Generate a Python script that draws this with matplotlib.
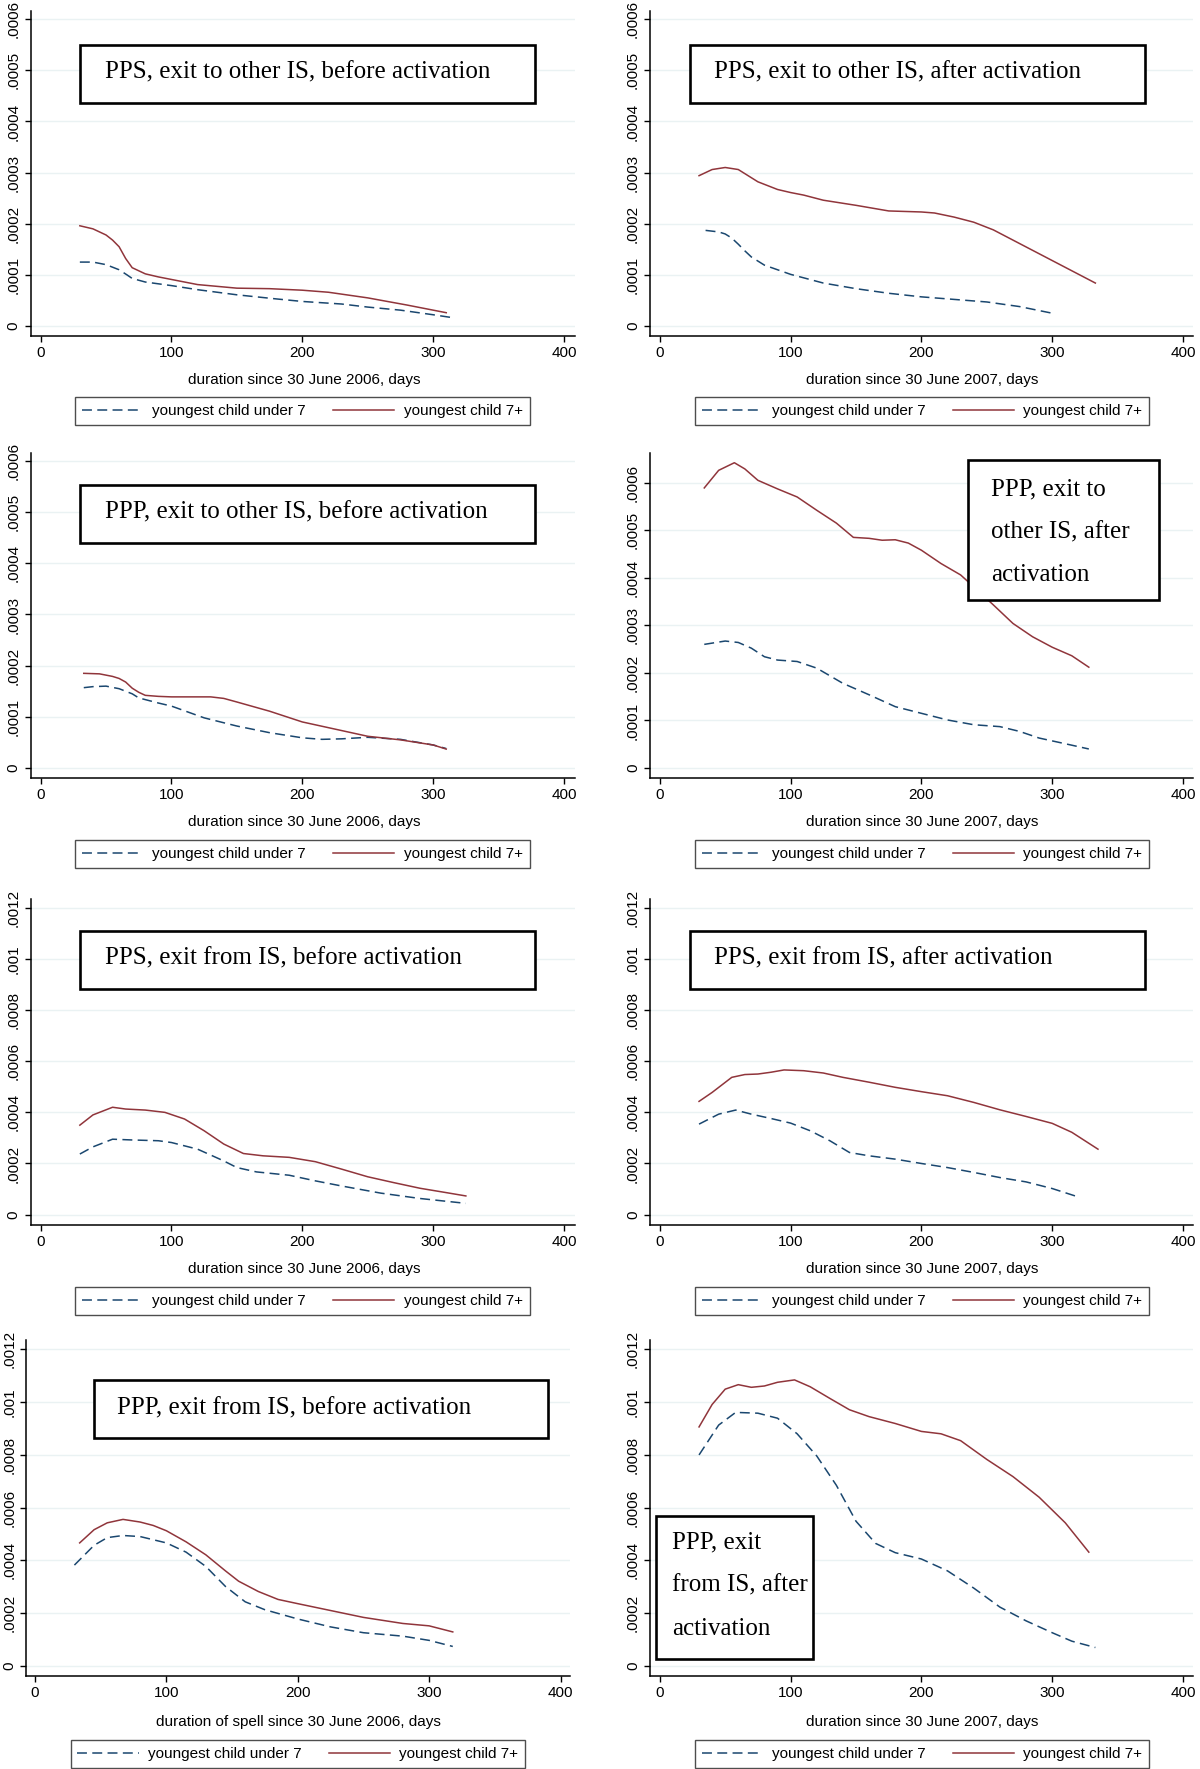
import numpy as np
import matplotlib
matplotlib.use("Agg")
import matplotlib.pyplot as plt
from matplotlib.patches import Rectangle
from matplotlib.lines import Line2D

W, H = 1200, 1769

# ---- data (hazard values in units of 0.0001) ----
# PPS, exit to other IS, before activation (2006)
pps_oth_bef_x_u7 = [30, 40, 50, 60, 66, 70, 80, 100, 120, 150, 180, 200, 230, 250, 275, 300, 313]
pps_oth_bef_y_u7 = [1.25, 1.25, 1.20, 1.10, 1.00, 0.93, 0.86, 0.79, 0.71, 0.61, 0.53, 0.48, 0.43, 0.37, 0.31, 0.22, 0.17]
pps_oth_bef_x_7p = [30, 40, 50, 55, 60, 65, 70, 80, 90, 100, 120, 150, 175, 200, 220, 250, 280, 310]
pps_oth_bef_y_7p = [1.96, 1.90, 1.78, 1.68, 1.55, 1.32, 1.14, 1.02, 0.96, 0.91, 0.81, 0.74, 0.73, 0.70, 0.66, 0.55, 0.41, 0.26]

# PPS, exit to other IS, after activation (2007)
pps_oth_aft_x_u7 = [35, 45, 50, 55, 60, 65, 70, 80, 100, 125, 150, 175, 200, 225, 250, 275, 300]
pps_oth_aft_y_u7 = [1.87, 1.84, 1.80, 1.72, 1.60, 1.47, 1.35, 1.19, 1.01, 0.84, 0.73, 0.64, 0.57, 0.52, 0.47, 0.38, 0.25]
pps_oth_aft_x_7p = [30, 40, 50, 60, 65, 75, 90, 100, 110, 125, 150, 175, 200, 210, 225, 240, 255, 270, 300, 333]
pps_oth_aft_y_7p = [2.94, 3.06, 3.10, 3.06, 2.98, 2.82, 2.67, 2.61, 2.56, 2.46, 2.36, 2.25, 2.23, 2.21, 2.13, 2.03, 1.88, 1.68, 1.28, 0.84]

# PPP, exit to other IS, before activation (2006)
ppp_oth_bef_x_u7 = [33, 40, 50, 60, 70, 75, 90, 100, 125, 150, 175, 200, 215, 230, 250, 275, 300, 310]
ppp_oth_bef_y_u7 = [1.57, 1.59, 1.60, 1.55, 1.45, 1.37, 1.27, 1.21, 0.98, 0.82, 0.69, 0.59, 0.56, 0.57, 0.60, 0.56, 0.45, 0.38]
ppp_oth_bef_x_7p = [33, 45, 55, 60, 65, 70, 75, 80, 90, 100, 115, 130, 140, 150, 175, 200, 225, 250, 275, 300, 310]
ppp_oth_bef_y_7p = [1.85, 1.84, 1.79, 1.75, 1.68, 1.56, 1.48, 1.42, 1.40, 1.39, 1.39, 1.39, 1.36, 1.29, 1.11, 0.90, 0.76, 0.62, 0.55, 0.45, 0.37]

# PPP, exit to other IS, after activation (2007)
ppp_oth_aft_x_u7 = [34, 50, 60, 70, 80, 90, 105, 120, 140, 160, 180, 200, 220, 240, 260, 275, 290, 310, 328]
ppp_oth_aft_y_u7 = [2.60, 2.67, 2.64, 2.52, 2.34, 2.27, 2.24, 2.10, 1.78, 1.54, 1.29, 1.15, 1.01, 0.91, 0.87, 0.77, 0.63, 0.51, 0.40]
ppp_oth_aft_x_7p = [34, 45, 57, 65, 75, 90, 105, 120, 135, 148, 160, 170, 180, 190, 200, 215, 230, 240, 255, 270, 285, 300, 315, 328]
ppp_oth_aft_y_7p = [5.89, 6.26, 6.42, 6.29, 6.05, 5.87, 5.70, 5.42, 5.15, 4.85, 4.83, 4.79, 4.80, 4.73, 4.58, 4.30, 4.06, 3.81, 3.43, 3.04, 2.76, 2.54, 2.36, 2.12]

# PPS, exit from IS, before activation (2006)
pps_from_bef_x_u7 = [30, 40, 55, 70, 90, 100, 120, 140, 150, 165, 190, 210, 230, 260, 290, 325]
pps_from_bef_y_u7 = [2.37, 2.65, 2.95, 2.92, 2.89, 2.82, 2.56, 2.10, 1.84, 1.67, 1.54, 1.32, 1.12, 0.84, 0.63, 0.44]
pps_from_bef_x_7p = [30, 40, 55, 65, 80, 95, 110, 125, 140, 155, 170, 190, 210, 230, 250, 270, 290, 310, 325]
pps_from_bef_y_7p = [3.50, 3.90, 4.20, 4.13, 4.09, 4.00, 3.74, 3.28, 2.76, 2.39, 2.30, 2.24, 2.07, 1.78, 1.48, 1.25, 1.03, 0.86, 0.73]

# PPS, exit from IS, after activation (2007)
pps_from_aft_x_u7 = [30, 45, 58, 70, 85, 100, 115, 130, 145, 160, 180, 200, 220, 240, 260, 280, 300, 320]
pps_from_aft_y_u7 = [3.54, 3.93, 4.09, 3.93, 3.76, 3.58, 3.28, 2.89, 2.43, 2.30, 2.17, 2.00, 1.84, 1.65, 1.45, 1.28, 1.02, 0.69]
pps_from_aft_x_7p = [30, 40, 55, 65, 75, 85, 95, 110, 125, 140, 160, 180, 200, 220, 240, 260, 280, 300, 315, 335]
pps_from_aft_y_7p = [4.43, 4.78, 5.37, 5.48, 5.50, 5.57, 5.66, 5.63, 5.54, 5.37, 5.18, 4.98, 4.81, 4.65, 4.39, 4.10, 3.84, 3.57, 3.22, 2.56]

# PPP, exit from IS, before activation (2006)
ppp_from_bef_x_u7 = [30, 45, 55, 67, 80, 100, 115, 130, 145, 160, 175, 200, 225, 250, 280, 300, 318]
ppp_from_bef_y_u7 = [3.82, 4.57, 4.86, 4.94, 4.90, 4.66, 4.31, 3.77, 3.01, 2.43, 2.13, 1.78, 1.48, 1.26, 1.13, 0.97, 0.74]
ppp_from_bef_x_7p = [34, 45, 55, 67, 80, 90, 100, 115, 130, 145, 155, 170, 185, 200, 225, 250, 280, 300, 318]
ppp_from_bef_y_7p = [4.66, 5.16, 5.42, 5.55, 5.45, 5.32, 5.12, 4.70, 4.21, 3.60, 3.21, 2.82, 2.52, 2.36, 2.10, 1.84, 1.61, 1.52, 1.29]

# PPP, exit from IS, after activation (2007)
ppp_from_aft_x_u7 = [30, 45, 58, 75, 90, 105, 120, 135, 150, 165, 180, 200, 220, 240, 260, 280, 300, 315, 333]
ppp_from_aft_y_u7 = [7.99, 9.12, 9.60, 9.57, 9.38, 8.79, 7.95, 6.84, 5.48, 4.64, 4.29, 4.05, 3.60, 2.95, 2.23, 1.71, 1.26, 0.94, 0.70]
ppp_from_aft_x_7p = [30, 40, 50, 60, 70, 80, 90, 103, 115, 130, 145, 160, 180, 200, 215, 230, 250, 270, 290, 310, 328]
ppp_from_aft_y_7p = [9.05, 9.90, 10.48, 10.65, 10.55, 10.60, 10.74, 10.83, 10.57, 10.13, 9.70, 9.44, 9.18, 8.88, 8.79, 8.53, 7.82, 7.17, 6.39, 5.42, 4.31]

x_ticks = [0, 100, 200, 300, 400]
y_ticks_small = [0, 0.0001, 0.0002, 0.0003, 0.0004, 0.0005, 0.0006]
y_labels_small = ["0", ".0001", ".0002", ".0003", ".0004", ".0005", ".0006"]
y_ticks_big = [0, 0.0002, 0.0004, 0.0006, 0.0008, 0.001, 0.0012]
y_labels_big = ["0", ".0002", ".0004", ".0006", ".0008", ".001", ".0012"]

titles = [
    ["PPS, exit to other IS, before activation"],
    ["PPS, exit to other IS, after activation"],
    ["PPP, exit to other IS, before activation"],
    ["PPP, exit to", "other IS, after", "activation"],
    ["PPS, exit from IS, before activation"],
    ["PPS, exit from IS, after activation"],
    ["PPP, exit from IS, before activation"],
    ["PPP, exit", "from IS, after", "activation"],
]
xlabels = [
    "duration since 30 June 2006, days", "duration since 30 June 2007, days",
    "duration since 30 June 2006, days", "duration since 30 June 2007, days",
    "duration since 30 June 2006, days", "duration since 30 June 2007, days",
    "duration of spell since 30 June 2006, days", "duration since 30 June 2007, days",
]
legend_labels = ["youngest child under 7", "youngest child 7+"]

series = [
    (pps_oth_bef_x_u7, pps_oth_bef_y_u7, pps_oth_bef_x_7p, pps_oth_bef_y_7p),
    (pps_oth_aft_x_u7, pps_oth_aft_y_u7, pps_oth_aft_x_7p, pps_oth_aft_y_7p),
    (ppp_oth_bef_x_u7, ppp_oth_bef_y_u7, ppp_oth_bef_x_7p, ppp_oth_bef_y_7p),
    (ppp_oth_aft_x_u7, ppp_oth_aft_y_u7, ppp_oth_aft_x_7p, ppp_oth_aft_y_7p),
    (pps_from_bef_x_u7, pps_from_bef_y_u7, pps_from_bef_x_7p, pps_from_bef_y_7p),
    (pps_from_aft_x_u7, pps_from_aft_y_u7, pps_from_aft_x_7p, pps_from_aft_y_7p),
    (ppp_from_bef_x_u7, ppp_from_bef_y_u7, ppp_from_bef_x_7p, ppp_from_bef_y_7p),
    (ppp_from_aft_x_u7, ppp_from_aft_y_u7, ppp_from_aft_x_7p, ppp_from_aft_y_7p),
]

# ---- layout, in pixels of the 1200x1769 image ----
# axes box: left, right, top, bottom ; x pixel of 0 and 400 ; y pixel of 0 and top tick
layout = [
    dict(box=(30.5, 575, 11, 336), x0=40.6, x4=564, y0=326, yt=19.2),
    dict(box=(649.6, 1193, 11, 336), x0=659.8, x4=1183, y0=326, yt=19.2),
    dict(box=(30.5, 575, 453, 778), x0=40.6, x4=564, y0=768, yt=461),
    dict(box=(649.6, 1193, 453, 778), x0=659.8, x4=1183, y0=768, yt=482.7),
    dict(box=(30.5, 575, 899, 1225), x0=40.6, x4=564, y0=1214.6, yt=907.9),
    dict(box=(649.6, 1193, 899, 1225), x0=659.8, x4=1183, y0=1214.6, yt=907.9),
    dict(box=(26, 569.5, 1340, 1676), x0=35, x4=560.5, y0=1666, yt=1349),
    dict(box=(649.6, 1193, 1340, 1676), x0=659.8, x4=1183, y0=1666, yt=1349),
]
# title boxes: left, right, top, bottom, text x, text line centres
title_boxes = [
    (80, 534.6, 45, 102.6, 104.9, [72.2]),
    (690, 1144.7, 45, 102.6, 714, [72.2]),
    (80, 534.6, 485, 542.5, 104.9, [512]),
    (967.6, 1159.4, 460, 600, 991.3, [489.5, 532.3, 575.2]),
    (80, 534.6, 931.5, 989, 104.9, [958.6]),
    (690, 1144.7, 931.5, 989, 714, [958.6]),
    (93.6, 548, 1380, 1438, 117.3, [1408.6]),
    (656.4, 813.1, 1515.8, 1659, 672.2, [1542.8, 1585.7, 1628.5]),
]
xlabel_pos = [(304, 380), (922.6, 380), (304, 822), (922.6, 822),
              (304, 1268.8), (922.6, 1268.8), (298, 1722), (922.6, 1722)]
legend_pos = [(302.3, 411), (922, 411), (302.3, 854), (922, 854),
              (302.3, 1301), (922, 1301), (297.8, 1754), (922, 1754)]

navy = "#1a476f"
maroon = "#90353b"
grid_col = "#eaf2f3"
sans = ["Liberation Sans", "DejaVu Sans"]
serif = ["Liberation Serif", "DejaVu Serif"]

fig = plt.figure(figsize=(W / 100, H / 100), dpi=100)
fig.patch.set_facecolor("white")

for i in range(8):
    lay = layout[i]
    l, r, t, b = lay["box"]
    ax = fig.add_axes([l / W, 1 - b / H, (r - l) / W, (b - t) / H])
    kx = (lay["x4"] - lay["x0"]) / 400.0
    ax.set_xlim((l - lay["x0"]) / kx, (r - lay["x0"]) / kx)
    if i < 4:
        yt_val, yticks, ylabels = 0.0006, y_ticks_small, y_labels_small
    else:
        yt_val, yticks, ylabels = 0.0012, y_ticks_big, y_labels_big
    ky = (lay["y0"] - lay["yt"]) / yt_val
    ax.set_ylim((lay["y0"] - b) / ky, (lay["y0"] - t) / ky)

    xu, yu, xp, yp = series[i]
    ax.plot(xu, np.array(yu) * 1e-4, color=navy, lw=1.1, ls=(0, (6.5, 3.5)), zorder=3)
    ax.plot(xp, np.array(yp) * 1e-4, color=maroon, lw=1.1, zorder=3)

    ax.set_xticks(x_ticks)
    ax.set_xticklabels([str(v) for v in x_ticks], family=sans, fontsize=11)
    ax.set_yticks(yticks)
    ax.set_yticklabels(ylabels, family=sans, fontsize=11, rotation=90, va="center")
    for v in yticks:
        ax.axhline(v, color=grid_col, lw=1.0, zorder=1)
    ax.tick_params(direction="out", length=4, width=1.0, pad=3, colors="black")
    for s in ["top", "right"]:
        ax.spines[s].set_visible(False)
    for s in ["left", "bottom"]:
        ax.spines[s].set_linewidth(1.1)

    # x label
    xc, yc = xlabel_pos[i]
    fig.text(xc / W, 1 - yc / H, xlabels[i], ha="center", va="center",
             family=sans, fontsize=11)

    # title box
    bl, br, bt, bb, tx, tys = title_boxes[i]
    fig.patches.append(Rectangle((bl / W, 1 - bb / H), (br - bl) / W, (bb - bt) / H,
                                 transform=fig.transFigure, facecolor="white",
                                 edgecolor="black", lw=1.9, zorder=5))
    for line, ty in zip(titles[i], tys):
        fig.text(tx / W, 1 - ty / H, line, ha="left", va="center",
                 family=serif, fontsize=18, zorder=6)

    # legend
    handles = [Line2D([], [], color=navy, lw=1.1, ls=(0, (6.5, 3.5))),
               Line2D([], [], color=maroon, lw=1.1)]
    lx, ly = legend_pos[i]
    leg = fig.legend(handles, legend_labels, loc="center", ncol=2,
                     bbox_to_anchor=(lx / W, 1 - ly / H),
                     prop={"family": sans, "size": 11}, frameon=True,
                     fancybox=False, handlelength=4.0, handletextpad=0.6,
                     columnspacing=1.8, borderpad=0.45, borderaxespad=0)
    leg.get_frame().set_edgecolor("#222222")
    leg.get_frame().set_linewidth(1.0)

fig.savefig("out.png", dpi=100, facecolor="white")
